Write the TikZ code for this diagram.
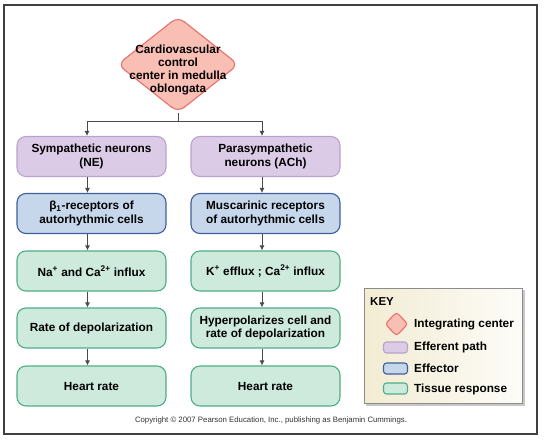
\documentclass[tikz,border=0pt]{standalone}
\usepackage{fontspec}
\setmainfont{Liberation Sans}
\usetikzlibrary{shapes.geometric,arrows.meta,calc}
\definecolor{dfill}{HTML}{F9BFB5}
\definecolor{ddraw}{HTML}{E8706A}
\definecolor{pfill}{HTML}{DCCBE6}
\definecolor{pdraw}{HTML}{B9A3CC}
\definecolor{bfill}{HTML}{C7D7EB}
\definecolor{bdraw}{HTML}{3F5F9C}
\definecolor{gfill}{HTML}{CDEADD}
\definecolor{gdraw}{HTML}{4FAE87}
\definecolor{keycream}{HTML}{F2ECD3}
\definecolor{arrowgray}{HTML}{4A4A4A}
\tikzset{
  box/.style={rounded corners=9pt, line width=1.1pt, minimum width=149pt, minimum height=40pt,
    inner sep=0pt, align=center, font=\fontsize{11.8}{13.8}\selectfont\bfseries},
  effpath/.style={box, draw=pdraw, fill=pfill},
  effector/.style={box, draw=bdraw, fill=bfill},
  tissue/.style={box, draw=gdraw, fill=gfill},
  conn/.style={draw=arrowgray, line width=0.8pt, -{Latex[length=5pt,width=5pt]}},
  plainline/.style={draw=arrowgray, line width=0.8pt},
  keytext/.style={anchor=west, inner sep=0pt, font=\fontsize{11.8}{13.8}\selectfont\bfseries},
  swatch/.style={rounded corners=3pt, line width=1.1pt, minimum width=24pt, minimum height=11pt, inner sep=0pt},
}
\begin{document}
\begin{tikzpicture}[x=1pt,y=-1pt]
\useasboundingbox (0,0) rectangle (545,442);
% frame
\draw[draw=black!75, line width=1.2pt] (4,5) rectangle (537,434);

% integrating center
\node (cvc) [diamond, draw=ddraw, fill=dfill, line width=1.1pt, rounded corners=8pt,
  minimum width=121pt, minimum height=96pt, inner sep=0pt] at (178,64.5) {};
\node (cvctext) [align=center, inner sep=0pt, font=\fontsize{11.8}{12.8}\selectfont\bfseries] at (178,70)
  {Cardiovascular\\control\\center in medulla\\oblongata};

% left column
\node (s1) [effpath]  at (91.5,156.5) {Sympathetic neurons\\(NE)};
\node (s2) [effector] at (91.5,213.5) {β\textsubscript{1}-receptors of\\autorhythmic cells};
\node (s3) [tissue]   at (91.5,271)   {Na\textsuperscript{+} and Ca\textsuperscript{2+} influx};
\node (s4) [tissue]   at (91.5,328)   {Rate of depolarization};
\node (s5) [tissue]   at (91.5,386)   {Heart rate};

% right column
\node (p1) [effpath]  at (265.5,156.5) {Parasympathetic\\neurons (ACh)};
\node (p2) [effector] at (265.5,213.5) {Muscarinic receptors\\of autorhythmic cells};
\node (p3) [tissue]   at (265.5,271)   {K\textsuperscript{+} efflux ; Ca\textsuperscript{2+} influx};
\node (p4) [tissue]   at (265.5,328)   {Hyperpolarizes cell and\\rate of depolarization};
\node (p5) [tissue]   at (265.5,386)   {Heart rate};

% branch
\coordinate (branch) at (178,121);
\coordinate (bl) at (87,121);
\coordinate (br) at (262,121);
\draw[plainline] (cvc.south) -- (branch);
\draw[plainline] (bl) -- (br);
\draw[conn] (bl) -- (bl |- s1.north);
\draw[conn] (br) -- (br |- p1.north);

% column arrows
\foreach \a/\b in {s1/s2,s2/s3,s3/s4,s4/s5}{
  \draw[conn] ([xshift=-4pt]\a.south) -- ([xshift=-4pt]\b.north);
}
\foreach \a/\b in {p1/p2,p2/p3,p3/p4,p4/p5}{
  \draw[conn] ([xshift=-3.5pt]\a.south) -- ([xshift=-3.5pt]\b.north);
}

% key
\fill[black!22] (366,290) rectangle (525,406);
\node (keybox) [draw=black!45, line width=1pt, left color=keycream, right color=white!85!keycream,
  minimum width=158pt, minimum height=115pt, inner sep=0pt, anchor=north west] at (364,288) {};
\node (keytitle) [anchor=west, inner sep=0pt, font=\fontsize{11.5}{13}\selectfont\bfseries] at (370,302) {KEY};
\node (kd) [diamond, draw=ddraw, fill=dfill, line width=1.1pt, rounded corners=3pt,
  minimum width=23pt, minimum height=24pt, inner sep=0pt] at (396.5,324) {};
\node (kp) [swatch, draw=pdraw, fill=pfill] at (395.5,347.5) {};
\node (kb) [swatch, draw=bdraw, fill=bfill] at (395.5,368.5) {};
\node (kg) [swatch, draw=gdraw, fill=gfill] at (395.5,388.5) {};
\node (kdt) [keytext] at (414,324) {Integrating center};
\node (kpt) [keytext] at (414,347) {Efferent path};
\node (kbt) [keytext] at (414,368) {Effector};
\node (kgt) [keytext] at (414,389) {Tissue response};

% copyright
\node (copy) [inner sep=0pt, font=\fontsize{7.8}{9}\selectfont, text=black!80] at (271,420)
  {Copyright © 2007 Pearson Education, Inc., publishing as Benjamin Cummings.};
\end{tikzpicture}
\end{document}
